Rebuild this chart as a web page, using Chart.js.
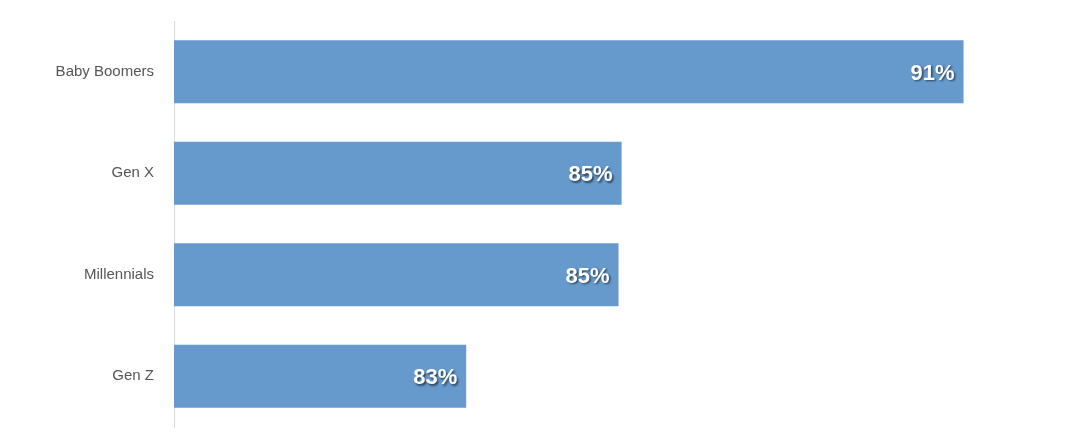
<!DOCTYPE html>
<html>
<head>
<meta charset="utf-8">
<script src="https://cdn.jsdelivr.net/npm/chart.js@4/dist/chart.umd.min.js"></script>
<style>
  html, body { margin: 0; padding: 0; background: #fff; }
  #wrap { width: 1073px; height: 448px; position: relative; }
</style>
</head>
<body>
<div id="wrap"><canvas id="genChart"></canvas></div>
<script>
const generations = ['Baby Boomers', 'Gen X', 'Millennials', 'Gen Z'];
const shares = [91, 85.5, 85.45, 83];
const shareLabels = ['91%', '85%', '85%', '83%'];

Chart.defaults.font.family = "'Liberation Sans', Arial, sans-serif";

// white bold value inside the end of each bar
const valueLabels = {
  id: 'valueLabels',
  afterDatasetsDraw(chart) {
    const ctx = chart.ctx;
    chart.getDatasetMeta(0).data.forEach((bar, i) => {
      ctx.save();
      ctx.font = "bold 22px 'Liberation Sans', Arial, sans-serif";
      ctx.fillStyle = '#fff';
      ctx.textAlign = 'right';
      ctx.textBaseline = 'middle';
      ctx.shadowColor = 'rgba(0,0,0,0.55)';
      ctx.shadowOffsetX = 1.5;
      ctx.shadowOffsetY = 1.5;
      ctx.shadowBlur = 2;
      ctx.fillText(shareLabels[i], bar.x - 9, bar.y + 2);
      ctx.restore();
    });
  }
};

new Chart(document.getElementById('genChart'), {
  type: 'bar',
  data: {
    labels: generations,
    datasets: [{ data: shares, backgroundColor: '#6699CC',
      barPercentage: 0.62, categoryPercentage: 1 }]
  },
  options: { indexAxis: 'y', responsive: true, maintainAspectRatio: false, animation: false,
    layout: { padding: { top: 13, bottom: 12, left: 0, right: 10 } },
    plugins: { legend: { display: false }, tooltip: { enabled: false } },
    scales: {
      x: { display: false, min: 78.3, max: 92.6 },
      y: { grid: { display: false }, border: { color: '#d9d9d9' },
        ticks: { color: '#555', font: { size: 15 }, padding: 12 },
        afterFit: s => { s.width = 174; } }
    }
  },
  plugins: [valueLabels]
});
</script>
</body>
</html>
